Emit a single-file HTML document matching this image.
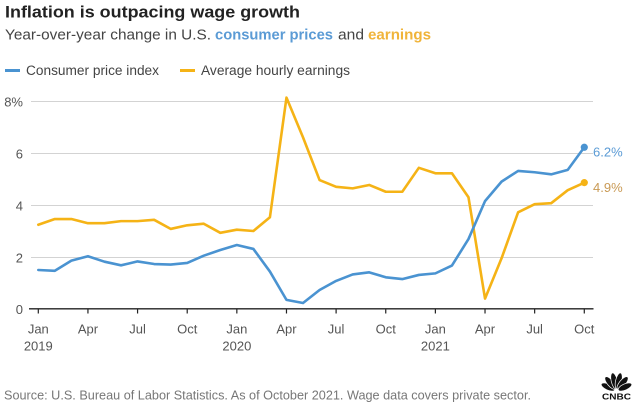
<!DOCTYPE html>
<html>
<head>
<meta charset="utf-8">
<style>
  html, body { margin:0; padding:0; background:#ffffff; }
  body { width:642px; height:408px; overflow:hidden; }
  svg { display:block; font-family:"Liberation Sans", "DejaVu Sans", sans-serif; }
</style>
</head>
<body>
<svg width="642" height="408" viewBox="0 0 642 408" xmlns="http://www.w3.org/2000/svg">
  <rect width="642" height="408" fill="#ffffff"/>

  <!-- Title -->
  <text x="5" y="17.5" font-size="17" font-weight="bold" fill="#222222" textLength="295" lengthAdjust="spacingAndGlyphs">Inflation is outpacing wage growth</text>

  <!-- Subtitle -->
  <text x="5" y="39.5" font-size="14.5" fill="#444444" textLength="206" lengthAdjust="spacingAndGlyphs">Year-over-year change in U.S.</text>
  <text x="215" y="39.5" font-size="14.5" font-weight="bold" fill="#5b9bd5" textLength="118" lengthAdjust="spacingAndGlyphs">consumer prices</text>
  <text x="338" y="39.5" font-size="14.5" fill="#444444" textLength="26" lengthAdjust="spacingAndGlyphs">and</text>
  <text x="368" y="39.5" font-size="14.5" font-weight="bold" fill="#f0b43a" textLength="63" lengthAdjust="spacingAndGlyphs">earnings</text>

  <!-- Legend -->
  <line x1="5" y1="70.5" x2="20" y2="70.5" stroke="#4a93d1" stroke-width="3"/>
  <text x="26" y="75" font-size="13.5" fill="#444444" textLength="133" lengthAdjust="spacingAndGlyphs">Consumer price index</text>
  <line x1="180" y1="70.5" x2="195" y2="70.5" stroke="#f5b316" stroke-width="3"/>
  <text x="201" y="75" font-size="13.5" fill="#444444" textLength="149" lengthAdjust="spacingAndGlyphs">Average hourly earnings</text>

  <!-- Gridlines -->
  <g stroke="#d3d3d3" stroke-width="1">
    <line x1="31" y1="101.5" x2="593" y2="101.5"/>
    <line x1="31" y1="153.5" x2="593" y2="153.5"/>
    <line x1="31" y1="205.5" x2="593" y2="205.5"/>
    <line x1="31" y1="257.5" x2="593" y2="257.5"/>
  </g>

  <!-- Y labels -->
  <g font-size="13" fill="#555555" text-anchor="end">
    <text x="23" y="106.5">8%</text>
    <text x="23" y="158.5">6</text>
    <text x="23" y="210.5">4</text>
    <text x="23" y="262.5">2</text>
    <text x="23" y="313.8">0</text>
  </g>

  <!-- X axis -->
  <line x1="29" y1="308.8" x2="593.5" y2="308.8" stroke="#222222" stroke-width="1.3"/>
  <g stroke="#222222" stroke-width="1.2">
    <line x1="38.3" y1="308.8" x2="38.3" y2="313.5"/>
    <line x1="87.94" y1="308.8" x2="87.94" y2="313.5"/>
    <line x1="137.57" y1="308.8" x2="137.57" y2="313.5"/>
    <line x1="187.21" y1="308.8" x2="187.21" y2="313.5"/>
    <line x1="236.84" y1="308.8" x2="236.84" y2="313.5"/>
    <line x1="286.48" y1="308.8" x2="286.48" y2="313.5"/>
    <line x1="336.11" y1="308.8" x2="336.11" y2="313.5"/>
    <line x1="385.75" y1="308.8" x2="385.75" y2="313.5"/>
    <line x1="435.38" y1="308.8" x2="435.38" y2="313.5"/>
    <line x1="485.02" y1="308.8" x2="485.02" y2="313.5"/>
    <line x1="534.65" y1="308.8" x2="534.65" y2="313.5"/>
    <line x1="584.29" y1="308.8" x2="584.29" y2="313.5"/>
  </g>
  <g font-size="13" fill="#555555" text-anchor="middle">
    <text x="38.3" y="333.5">Jan</text>
    <text x="87.94" y="333.5">Apr</text>
    <text x="137.57" y="333.5">Jul</text>
    <text x="187.21" y="333.5">Oct</text>
    <text x="236.84" y="333.5">Jan</text>
    <text x="286.48" y="333.5">Apr</text>
    <text x="336.11" y="333.5">Jul</text>
    <text x="385.75" y="333.5">Oct</text>
    <text x="435.38" y="333.5">Jan</text>
    <text x="485.02" y="333.5">Apr</text>
    <text x="534.65" y="333.5">Jul</text>
    <text x="584.29" y="333.5">Oct</text>
    <text x="38.3" y="350.5">2019</text>
    <text x="236.84" y="350.5">2020</text>
    <text x="435.38" y="350.5">2021</text>
  </g>

  <!-- Average hourly earnings -->
  <polyline fill="none" stroke="#f5b316" stroke-width="2.6" stroke-linejoin="round" stroke-linecap="round"
    points="38.3,224.76 54.85,219.04 71.39,219.04 87.94,223.2 104.48,223.2 121.03,221.12 137.57,221.12 154.12,219.82 170.66,228.92 187.21,225.28 203.75,223.72 220.3,232.82 236.84,229.7 253.39,231 269.93,217.22 286.48,97.62 303.02,137.4 319.57,180.04 336.11,186.8 352.66,188.36 369.2,184.98 385.75,191.74 402.29,191.74 418.84,167.82 435.38,173.28 451.93,173.28 468.47,197.2 485.02,298.6 501.56,258.3 518.11,212.28 534.65,204.22 551.2,203.18 567.74,190.18 584.29,182.64"/>

  <!-- Consumer price index -->
  <polyline fill="none" stroke="#4a93d1" stroke-width="2.6" stroke-linejoin="round" stroke-linecap="round"
    points="38.3,270 54.85,270.78 71.39,260.64 87.94,256.22 104.48,261.68 121.03,265.32 137.57,261.42 154.12,264.02 170.66,264.54 187.21,262.98 203.75,255.7 220.3,249.98 236.84,245.04 253.39,248.94 269.93,271.56 286.48,299.9 303.02,303.02 319.57,290.02 336.11,280.92 352.66,274.42 369.2,272.34 385.75,277.28 402.29,279.1 418.84,274.94 435.38,273.38 451.93,265.58 468.47,239.06 485.02,201.1 501.56,181.6 518.11,170.94 534.65,172.24 551.2,174.32 567.74,169.9 584.29,147.28"/>

  <!-- End dots -->
  <circle cx="584.29" cy="147.28" r="3.6" fill="#4a93d1"/>
  <circle cx="584.29" cy="182.64" r="3.6" fill="#f5b316"/>

  <!-- End labels -->
  <text x="593" y="156.5" font-size="13" fill="#5b9bd5">6.2%</text>
  <text x="593" y="192" font-size="13" fill="#c99a55">4.9%</text>

  <!-- Source -->
  <text x="4" y="399.5" font-size="12.5" fill="#777777" textLength="527" lengthAdjust="spacingAndGlyphs">Source: U.S. Bureau of Labor Statistics. As of October 2021. Wage data covers private sector.</text>

  <!-- CNBC logo -->
  <g fill="#111111" stroke="#ffffff" stroke-width="0.7">
    <ellipse cx="608.0" cy="387.0" rx="3.1" ry="7.3" transform="rotate(-66 608.0 387.0)"/>
    <ellipse cx="610.4" cy="383.0" rx="3.1" ry="7.8" transform="rotate(-40 610.4 383.0)"/>
    <ellipse cx="614.3" cy="380.9" rx="3.1" ry="8.2" transform="rotate(-13 614.3 380.9)"/>
    <ellipse cx="618.7" cy="380.9" rx="3.1" ry="8.2" transform="rotate(13 618.7 380.9)"/>
    <ellipse cx="622.6" cy="383.0" rx="3.1" ry="7.8" transform="rotate(40 622.6 383.0)"/>
    <ellipse cx="625.0" cy="387.0" rx="3.1" ry="7.3" transform="rotate(66 625.0 387.0)"/>
  </g>
  <text x="616.5" y="399.5" font-size="8" font-weight="bold" fill="#111111" text-anchor="middle" textLength="29" lengthAdjust="spacingAndGlyphs">CNBC</text>
</svg>
</body>
</html>
